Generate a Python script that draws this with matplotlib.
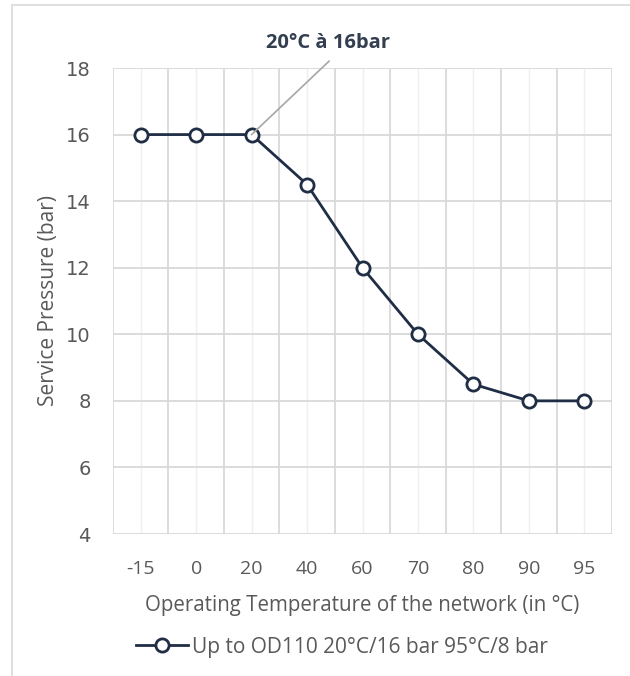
import matplotlib.pyplot as plt
from matplotlib.patches import Rectangle

# temperatures (categories) and service pressure
temps = ['-15', '0', '20', '40', '60', '70', '80', '90', '95']
pressure = [16, 16, 16, 14.5, 12, 10, 8.5, 8, 8]
series_name = 'Up to OD110 20°C/16 bar 95°C/8 bar'

plt.rcParams['font.family'] = ['Open Sans', 'DejaVu Sans']

W, H = 630, 676
fig = plt.figure(figsize=(W / 100, H / 100), dpi=100)
ax = fig.add_axes([113 / W, 1 - 534 / H, (612 - 113) / W, (534 - 68) / H])

# outer chart frame
fig.patches.append(Rectangle((12 / W, -0.05), 1.2, 1 - 5 / H + 0.05,
                             transform=fig.transFigure, fill=False,
                             edgecolor='#d9d9d9', linewidth=1.2))

x = list(range(len(temps)))
line_col = '#1f2d45'
ax.plot(x, pressure, color=line_col, linewidth=2, marker='o', markersize=9.5,
        markerfacecolor='white', markeredgecolor=line_col, markeredgewidth=2,
        label=series_name, zorder=3)

ax.set_xlim(-0.5, len(temps) - 0.5)
ax.set_ylim(4, 18)
ax.set_yticks(range(4, 19, 2))
ax.set_xticks(x)
ax.set_xticklabels(temps)

# major grid on category borders, lighter on centres
for b in [i - 0.5 for i in range(len(temps) + 1)]:
    ax.axvline(b, color='#d9d9d9', linewidth=1.3, zorder=0)
for c in x:
    ax.axvline(c, color='#efefef', linewidth=1, zorder=0)
for yv in range(4, 19, 2):
    ax.axhline(yv, color='#d9d9d9', linewidth=1.3, zorder=0)

for s in ax.spines.values():
    s.set_visible(False)
ax.tick_params(length=0, labelcolor='#595959')
ax.tick_params(axis='x', labelsize=14, pad=19)
ax.yaxis.set_tick_params(labelsize=14, pad=16, labelfontfamily='DejaVu Sans')

ax.set_xlabel('Operating Temperature of the network (in °C)', fontsize=14.8,
              color='#595959', labelpad=12)
ax.set_ylabel('Service Pressure (bar)', fontsize=15, color='#595959', labelpad=5)

# callout for the 20 °C point
ax.annotate('', xy=(2, 16), xytext=(3.4, 18.21), annotation_clip=False,
            arrowprops=dict(arrowstyle='-', color='#a6a6a6', linewidth=1.2,
                            shrinkA=0, shrinkB=0))
ax.text(3.38, 18.45, '20°C à 16bar', fontsize=14.5, fontweight='bold',
        color='#333f50', ha='center', va='bottom', clip_on=False)

fig.legend(loc='center', bbox_to_anchor=(342 / W, 1 - 647 / H), frameon=False,
           fontsize=15, labelcolor='#595959', handlelength=2.5, handletextpad=0.2)

fig.savefig('out.png', dpi=100, facecolor='white')
